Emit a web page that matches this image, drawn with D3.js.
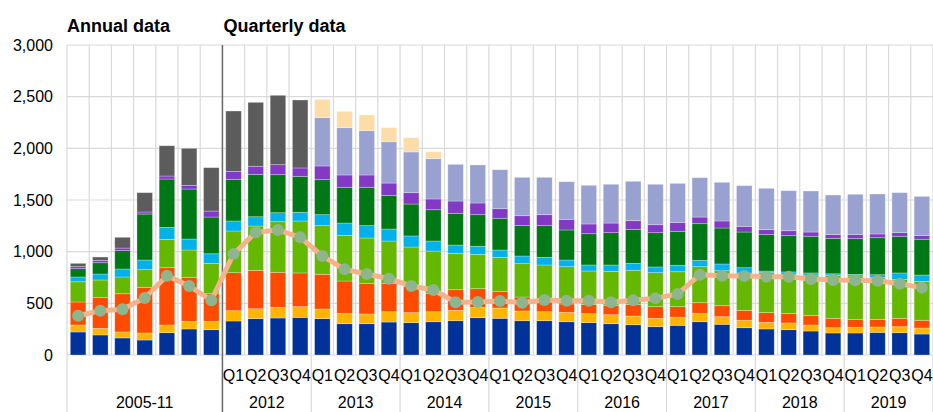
<!DOCTYPE html>
<html>
<head>
<meta charset="utf-8">
<script src="https://cdnjs.cloudflare.com/ajax/libs/d3/7.8.5/d3.min.js"></script>
<style>
    body { margin: 0; background: #fff; }
    svg text { font-family: Arial, "Liberation Sans", sans-serif; fill: #000; }
</style>
</head>
<body>
<div class="container"></div>
<script>
// categories: 7 annual bars then 32 quarters
var categories = ["2005", "2006", "2007", "2008", "2009", "2010", "2011",
    "2012Q1", "2012Q2", "2012Q3", "2012Q4", "2013Q1", "2013Q2", "2013Q3", "2013Q4",
    "2014Q1", "2014Q2", "2014Q3", "2014Q4", "2015Q1", "2015Q2", "2015Q3", "2015Q4",
    "2016Q1", "2016Q2", "2016Q3", "2016Q4", "2017Q1", "2017Q2", "2017Q3", "2017Q4",
    "2018Q1", "2018Q2", "2018Q3", "2018Q4", "2019Q1", "2019Q2", "2019Q3", "2019Q4"];

var quarterLabels = ["Q1", "Q2", "Q3", "Q4"];
var groupLabels = ["2005-11", "2012", "2013", "2014", "2015", "2016", "2017", "2018", "2019"];
var groupSizes = [7, 4, 4, 4, 4, 4, 4, 4, 4];
var yTicks = [0, 500, 1000, 1500, 2000, 2500, 3000];

// stacked series, bottom to top
var sBlue = [223, 194, 165, 145, 216, 252, 245, 329, 352, 358, 364, 352, 303, 303, 319,
    313, 322, 332, 361, 355, 332, 332, 322, 313, 303, 293, 274, 287, 322, 297, 264,
    252, 245, 232, 213, 213, 219, 216, 203];
var sYellow = [67, 64, 58, 68, 74, 74, 81, 100, 96, 103, 104, 93, 100, 94, 100,
    97, 97, 100, 100, 100, 94, 87, 91, 87, 87, 84, 81, 78, 81, 74, 72,
    64, 65, 58, 51, 55, 52, 58, 58];
var sOrange = [223, 297, 370, 442, 555, 426, 267, 368, 371, 339, 326, 336, 313, 297, 275,
    251, 178, 200, 181, 161, 135, 130, 81, 90, 91, 113, 113, 103, 103, 106, 96,
    94, 93, 91, 91, 77, 74, 81, 75];
var sLightGreen = [196, 171, 162, 171, 274, 264, 294, 403, 429, 490, 503, 471, 442, 438, 409,
    384, 409, 352, 332, 329, 323, 322, 361, 323, 329, 330, 329, 338, 349, 339, 362,
    387, 381, 393, 416, 420, 403, 377, 377];
var sCyan = [46, 58, 77, 93, 116, 106, 93, 97, 90, 87, 84, 106, 119, 120, 116,
    107, 97, 80, 78, 71, 74, 74, 64, 58, 61, 67, 55, 62, 61, 65, 51,
    15, 20, 20, 15, 15, 29, 62, 61];
var sDarkGreen = [80, 109, 178, 445, 468, 484, 355, 403, 410, 368, 348, 339, 346, 371, 326,
    309, 303, 307, 306, 307, 294, 307, 291, 303, 313, 329, 332, 329, 355, 348, 345,
    353, 351, 355, 343, 346, 358, 355, 346];
var sPurple = [20, 23, 25, 20, 29, 36, 58, 77, 78, 97, 81, 132, 119, 119, 119,
    110, 104, 119, 113, 93, 96, 106, 103, 94, 93, 84, 77, 84, 64, 68, 55,
    48, 48, 41, 36, 39, 36, 35, 35];
var sGrey = [32, 32, 104, 187, 293, 358, 420, 584, 619, 671, 658, 0, 0, 0, 0,
    0, 0, 0, 0, 0, 0, 0, 0, 0, 0, 0, 0, 0, 0, 0, 0,
    0, 0, 0, 0, 0, 0, 0, 0];
var sLavender = [0, 0, 0, 0, 0, 0, 0, 0, 0, 0, 0, 468, 458, 429, 400,
    394, 390, 355, 368, 377, 371, 361, 364, 374, 375, 381, 391, 380, 381, 374, 394,
    400, 387, 397, 383, 390, 387, 387, 380];
var sPeach = [0, 0, 0, 0, 0, 0, 0, 0, 0, 0, 0, 177, 158, 152, 136,
    138, 67, 0, 0, 0, 0, 0, 0, 0, 0, 0, 0, 0, 0, 0, 0,
    0, 0, 0, 0, 0, 0, 0, 0];

// line series
var lineValues = [380, 429, 442, 552, 768, 668, 529, 977, 1187, 1210, 1139, 958, 829, 784, 739,
    668, 629, 510, 513, 523, 506, 532, 526, 526, 510, 529, 548, 590, 777, 768, 765,
    758, 758, 735, 726, 723, 719, 690, 652];

var keys = ["blue", "yellow", "orange", "lgreen", "cyan", "dgreen", "purple", "grey", "lavender", "peach"];
var colors = ["#003299", "#FFB400", "#FF4B00", "#65B800", "#00B1EA", "#007816", "#8139C6", "#5C5C5C", "#98A1D0", "#FDDDA7"];
var seriesList = [sBlue, sYellow, sOrange, sLightGreen, sCyan, sDarkGreen, sPurple, sGrey, sLavender, sPeach];

!function () {
    var width = 933, height = 412;
    var left = 67, right = 933, top = 45, bottom = 355;

    var svg = d3.select('.container')
        .append('svg')
        .attr('width', width)
        .attr('height', height);

    var table = categories.map(function (c, i) {
        var row = { cat: i };
        keys.forEach(function (k, j) { row[k] = seriesList[j][i]; });
        return row;
    });

    var x = d3.scaleBand()
        .domain(d3.range(categories.length))
        .range([left, right])
        .paddingInner(0.3)
        .paddingOuter(0.15);

    var y = d3.scaleLinear()
        .domain([0, 3000])
        .range([bottom, top]);

    var step = x.step();
    var color = d3.scaleOrdinal().domain(keys).range(colors);

    // grid
    svg.append('g').selectAll('line')
        .data(yTicks)
        .enter()
        .append('line')
        .attr('x1', left).attr('x2', right)
        .attr('y1', function (d) { return y(d); })
        .attr('y2', function (d) { return y(d); })
        .attr('stroke', '#d9d9d9')
        .attr('stroke-width', 1.2);

    svg.append('g').selectAll('line')
        .data(d3.range(categories.length + 1))
        .enter()
        .append('line')
        .attr('x1', function (i) { return left + i * step; })
        .attr('x2', function (i) { return left + i * step; })
        .attr('y1', top).attr('y2', bottom)
        .attr('stroke', '#d9d9d9')
        .attr('stroke-width', 1.2);

    // group separators below the axis
    var bounds = [0];
    groupSizes.forEach(function (s, i) { bounds.push(bounds[i] + s); });
    svg.append('g').selectAll('line')
        .data(bounds)
        .enter()
        .append('line')
        .attr('x1', function (b) { return left + b * step; })
        .attr('x2', function (b) { return left + b * step; })
        .attr('y1', bottom).attr('y2', height)
        .attr('stroke', '#d9d9d9')
        .attr('stroke-width', 1.2);

    // y axis
    var yAxis = d3.axisLeft(y)
        .tickValues(yTicks)
        .tickSize(0)
        .tickPadding(14)
        .tickFormat(d3.format(','));

    var ga = svg.append('g')
        .attr('transform', 'translate(' + left + ',0)')
        .call(yAxis);
    ga.select('.domain').remove();
    ga.selectAll('text')
        .style('font-size', '16px')
        .attr('fill', '#000');

    // stacked bars
    var stacked = d3.stack().keys(keys)(table);

    svg.append('g').selectAll('g')
        .data(stacked)
        .enter()
        .append('g')
        .attr('fill', function (d) { return color(d.key); })
        .selectAll('rect')
        .data(function (d) { return d.filter(function (p) { return p[1] - p[0] > 0; }); })
        .enter()
        .append('rect')
        .attr('x', function (d) { return x(d.data.cat); })
        .attr('y', function (d) { return y(d[1]); })
        .attr('width', x.bandwidth())
        .attr('height', function (d) { return y(d[0]) - y(d[1]); })
        .attr('stroke', '#ffffff')
        .attr('stroke-opacity', 0.35)
        .attr('stroke-width', 0.8);

    // annual / quarterly divider
    svg.append('line')
        .attr('x1', left + 7 * step).attr('x2', left + 7 * step)
        .attr('y1', top).attr('y2', height)
        .attr('stroke', '#6a6a6a')
        .attr('stroke-width', 1.5);

    // line with markers
    var line = d3.line()
        .x(function (d, i) { return x(i) + x.bandwidth() / 2; })
        .y(function (d) { return y(d); });

    svg.append('path')
        .datum(lineValues)
        .attr('d', line)
        .attr('fill', 'none')
        .attr('stroke', '#F6B28A')
        .attr('stroke-width', 5);

    svg.append('g').selectAll('circle')
        .data(lineValues)
        .enter()
        .append('circle')
        .attr('cx', function (d, i) { return x(i) + x.bandwidth() / 2; })
        .attr('cy', function (d) { return y(d); })
        .attr('r', 6)
        .attr('fill', '#8DB58E');

    // quarter labels
    svg.append('g').selectAll('text')
        .data(d3.range(7, categories.length))
        .enter()
        .append('text')
        .attr('x', function (i) { return x(i) + x.bandwidth() / 2; })
        .attr('y', 381)
        .attr('text-anchor', 'middle')
        .style('font-size', '16px')
        .text(function (i) { return quarterLabels[(i - 7) % 4]; });

    // year / group labels
    svg.append('g').selectAll('text')
        .data(groupLabels)
        .enter()
        .append('text')
        .attr('x', function (d, i) { return left + (bounds[i] + bounds[i + 1]) / 2 * step; })
        .attr('y', 408)
        .attr('text-anchor', 'middle')
        .style('font-size', '16px')
        .text(function (d) { return d; });

    // section titles
    svg.append('text')
        .attr('x', left)
        .attr('y', 32)
        .style('font-size', '18px')
        .style('font-weight', 'bold')
        .text('Annual data');

    svg.append('text')
        .attr('x', left + 7 * step + 1)
        .attr('y', 32)
        .style('font-size', '18px')
        .style('font-weight', 'bold')
        .text('Quarterly data');
}();
</script>
</body>
</html>
